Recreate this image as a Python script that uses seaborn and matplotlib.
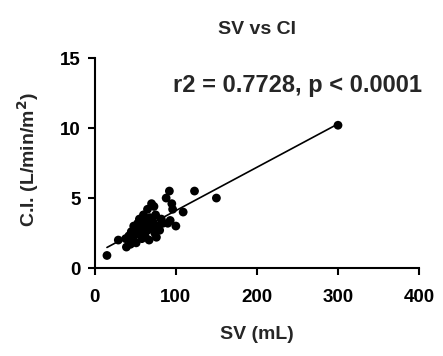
import matplotlib
matplotlib.use("Agg")
import matplotlib.pyplot as plt
import seaborn as sns
import pandas as pd

sns.set_style("ticks")
plt.rcParams['font.family'] = ['Liberation Sans', 'DejaVu Sans']
plt.rcParams['font.weight'] = 'bold'
plt.rcParams['mathtext.default'] = 'bf'

sv = [15, 29, 39, 38, 42, 44, 45, 47, 48, 50, 51, 52, 53, 55, 55, 57, 58, 58,
      60, 60, 62, 62, 63, 65, 65, 66, 67, 68, 70, 70, 72, 73, 74, 75, 76, 78,
      80, 82, 84, 88, 90, 92, 93, 95, 96, 100, 109, 123, 150, 300]
ci = [0.9, 2.0, 1.5, 2.1, 2.3, 1.7, 2.6, 2.2, 3.0, 2.5, 1.8, 2.8, 3.2, 2.4, 3.5,
      2.9, 2.1, 3.3, 2.6, 3.8, 3.0, 2.3, 3.4, 2.7, 4.2, 3.1, 2.0, 3.6, 4.6, 2.9,
      3.3, 4.4, 2.5, 3.8, 2.2, 3.0, 2.7, 3.5, 3.2, 5.0, 3.2, 5.5, 3.4, 4.6, 4.2,
      3.0, 4.0, 5.5, 5.0, 10.2]
x_ticks = [0, 100, 200, 300, 400]
y_ticks = [0, 5, 10, 15]

df = pd.DataFrame({"SV": sv, "CI": ci})

fig = plt.figure(figsize=(4.43, 3.56), dpi=100)
ax = fig.add_axes([0.214, 0.247, 0.732, 0.59])
sns.regplot(data=df, x="SV", y="CI", ax=ax, ci=None, truncate=True,
            scatter_kws=dict(s=40, color="black", edgecolor="none", alpha=1),
            line_kws=dict(color="black", lw=1.2))

ax.set_xlim(0, 400)
ax.set_ylim(0, 15)
ax.set_xticks(x_ticks)
ax.set_yticks(y_ticks)
sns.despine(ax=ax)
for s in ["left", "bottom"]:
    ax.spines[s].set_linewidth(1.5)
    ax.spines[s].set_color("black")
ax.tick_params(axis="both", direction="out", length=5, width=1.5, colors="black",
               labelsize=13.5)
ax.tick_params(axis="x", pad=10)
ax.tick_params(axis="y", pad=5)
for lab in ax.get_xticklabels() + ax.get_yticklabels():
    lab.set_fontweight("bold")

ax.set_xlabel("SV (mL)", fontsize=14, fontweight="bold")
ax.set_ylabel("C.I. (L/min/m$^2$)", fontsize=14, fontweight="bold")
ax.xaxis.set_label_coords(0.5, -0.315)
ax.xaxis.label.set_va("center")
ax.yaxis.set_label_coords(-0.207, 0.514)
ax.yaxis.label.set_va("center")

ax.text(0.5, 1.115, "SV vs CI", transform=ax.transAxes, ha="center",
        va="baseline", fontsize=14, fontweight="bold")
ax.text(0.625, 0.838, "r2 = 0.7728, p < 0.0001", transform=ax.transAxes,
        ha="center", va="baseline", fontsize=17, fontweight="bold")

fig.savefig("out.png", dpi=100)
